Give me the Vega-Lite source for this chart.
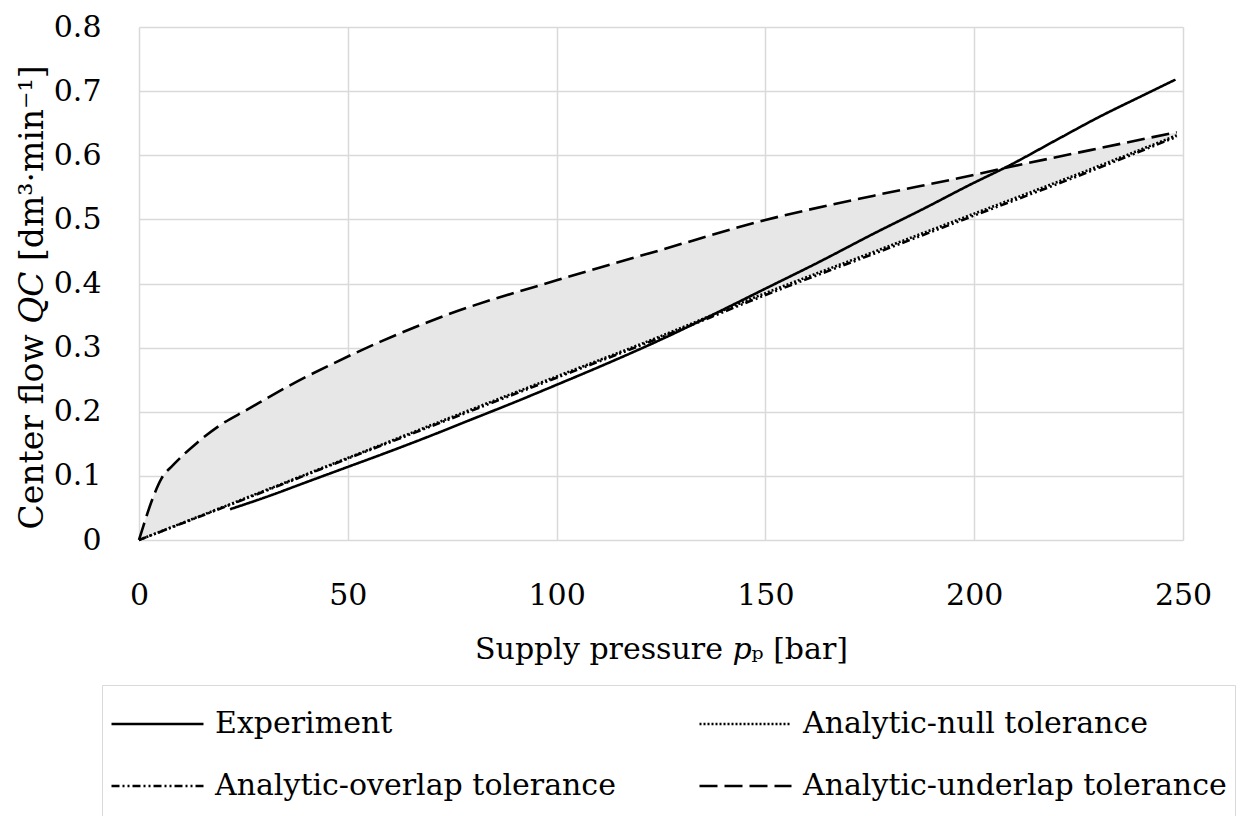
{
  "$schema": "https://vega.github.io/schema/vega-lite/v6.json",
  "width": 1044,
  "height": 513,
  "autosize": {"type": "none"},
  "padding": {"left": 139, "top": 27, "right": 67, "bottom": 276},
  "background": "white",
  "config": {
    "view": {"stroke": null},
    "font": "DejaVu Serif",
    "axis": {
      "labelFont": "DejaVu Serif",
      "titleFont": "DejaVu Serif",
      "labelFontSize": 30,
      "titleFontSize": 30,
      "labelColor": "#000000",
      "titleColor": "#000000",
      "titleFontWeight": "normal",
      "gridColor": "#d9d9d9",
      "gridWidth": 1.5,
      "domain": false,
      "ticks": false,
      "tickSize": 0,
      "labelFlush": false
    },
    "legend": {
      "orient": "none",
      "legendX": -37,
      "legendY": 658,
      "columns": 2,
      "direction": "horizontal",
      "symbolType": "stroke",
      "symbolSize": 8464,
      "symbolStrokeWidth": 2.5,
      "symbolStrokeColor": "#000000",
      "clipHeight": 62,
      "labelFont": "DejaVu Serif",
      "labelFontSize": 30,
      "labelColor": "#000000",
      "labelOffset": 10,
      "labelLimit": 0,
      "columnPadding": 82,
      "rowPadding": -1,
      "padding": 8,
      "strokeColor": "#d9d9d9",
      "fillColor": "#ffffff"
    }
  },
  "datasets": {
    "band": [
      {"p": 0, "upper": 0, "lower": 0},
      {"p": 1, "upper": 0.021, "lower": 0.0026},
      {"p": 3.4, "upper": 0.067, "lower": 0.0087},
      {"p": 5.4, "upper": 0.096, "lower": 0.0138},
      {"p": 8.2, "upper": 0.117, "lower": 0.021},
      {"p": 13.8, "upper": 0.151, "lower": 0.035},
      {"p": 19.4, "upper": 0.179, "lower": 0.05},
      {"p": 25.8, "upper": 0.203, "lower": 0.066},
      {"p": 37.8, "upper": 0.247, "lower": 0.097},
      {"p": 45.8, "upper": 0.273, "lower": 0.117},
      {"p": 57.7, "upper": 0.309, "lower": 0.147},
      {"p": 73.7, "upper": 0.351, "lower": 0.188},
      {"p": 100, "upper": 0.405, "lower": 0.255},
      {"p": 124.8, "upper": 0.452, "lower": 0.318},
      {"p": 150, "upper": 0.499, "lower": 0.385},
      {"p": 176, "upper": 0.537, "lower": 0.449},
      {"p": 199, "upper": 0.568, "lower": 0.507},
      {"p": 208.7, "upper": 0.582, "lower": 0.531},
      {"p": 227.8, "upper": 0.608, "lower": 0.578},
      {"p": 248.5, "upper": 0.636, "lower": 0.631}
    ],
    "lines": [
      {"series": "Experiment", "p": 21.8, "Q": 0.048},
      {"series": "Experiment", "p": 30, "Q": 0.066},
      {"series": "Experiment", "p": 40, "Q": 0.09},
      {"series": "Experiment", "p": 50, "Q": 0.114},
      {"series": "Experiment", "p": 60, "Q": 0.138},
      {"series": "Experiment", "p": 70, "Q": 0.163},
      {"series": "Experiment", "p": 80, "Q": 0.189},
      {"series": "Experiment", "p": 90, "Q": 0.215},
      {"series": "Experiment", "p": 100, "Q": 0.242},
      {"series": "Experiment", "p": 112, "Q": 0.275},
      {"series": "Experiment", "p": 124.8, "Q": 0.312},
      {"series": "Experiment", "p": 137, "Q": 0.35},
      {"series": "Experiment", "p": 150, "Q": 0.392},
      {"series": "Experiment", "p": 163, "Q": 0.434},
      {"series": "Experiment", "p": 176, "Q": 0.478},
      {"series": "Experiment", "p": 188, "Q": 0.517},
      {"series": "Experiment", "p": 199, "Q": 0.554},
      {"series": "Experiment", "p": 208.7, "Q": 0.585},
      {"series": "Experiment", "p": 220, "Q": 0.625},
      {"series": "Experiment", "p": 230, "Q": 0.66},
      {"series": "Experiment", "p": 240, "Q": 0.692},
      {"series": "Experiment", "p": 248.2, "Q": 0.718},
      {"series": "Analytic-null tolerance", "p": 0, "Q": 0},
      {"series": "Analytic-null tolerance", "p": 25, "Q": 0.064},
      {"series": "Analytic-null tolerance", "p": 50, "Q": 0.128},
      {"series": "Analytic-null tolerance", "p": 75, "Q": 0.192},
      {"series": "Analytic-null tolerance", "p": 100, "Q": 0.255},
      {"series": "Analytic-null tolerance", "p": 125, "Q": 0.318},
      {"series": "Analytic-null tolerance", "p": 150, "Q": 0.385},
      {"series": "Analytic-null tolerance", "p": 175, "Q": 0.447},
      {"series": "Analytic-null tolerance", "p": 200, "Q": 0.509},
      {"series": "Analytic-null tolerance", "p": 225, "Q": 0.571},
      {"series": "Analytic-null tolerance", "p": 248.5, "Q": 0.631},
      {"series": "Analytic-overlap tolerance", "p": 0, "Q": 0},
      {"series": "Analytic-overlap tolerance", "p": 25, "Q": 0.063},
      {"series": "Analytic-overlap tolerance", "p": 50, "Q": 0.127},
      {"series": "Analytic-overlap tolerance", "p": 75, "Q": 0.19},
      {"series": "Analytic-overlap tolerance", "p": 100, "Q": 0.253},
      {"series": "Analytic-overlap tolerance", "p": 125, "Q": 0.316},
      {"series": "Analytic-overlap tolerance", "p": 150, "Q": 0.382},
      {"series": "Analytic-overlap tolerance", "p": 175, "Q": 0.444},
      {"series": "Analytic-overlap tolerance", "p": 200, "Q": 0.506},
      {"series": "Analytic-overlap tolerance", "p": 225, "Q": 0.568},
      {"series": "Analytic-overlap tolerance", "p": 248.5, "Q": 0.629},
      {"series": "Analytic-underlap tolerance", "p": 0, "Q": 0},
      {"series": "Analytic-underlap tolerance", "p": 1, "Q": 0.021},
      {"series": "Analytic-underlap tolerance", "p": 3.4, "Q": 0.067},
      {"series": "Analytic-underlap tolerance", "p": 5.4, "Q": 0.096},
      {"series": "Analytic-underlap tolerance", "p": 8.2, "Q": 0.117},
      {"series": "Analytic-underlap tolerance", "p": 13.8, "Q": 0.151},
      {"series": "Analytic-underlap tolerance", "p": 19.4, "Q": 0.179},
      {"series": "Analytic-underlap tolerance", "p": 25.8, "Q": 0.203},
      {"series": "Analytic-underlap tolerance", "p": 37.8, "Q": 0.247},
      {"series": "Analytic-underlap tolerance", "p": 45.8, "Q": 0.273},
      {"series": "Analytic-underlap tolerance", "p": 57.7, "Q": 0.309},
      {"series": "Analytic-underlap tolerance", "p": 73.7, "Q": 0.351},
      {"series": "Analytic-underlap tolerance", "p": 100, "Q": 0.405},
      {"series": "Analytic-underlap tolerance", "p": 124.8, "Q": 0.452},
      {"series": "Analytic-underlap tolerance", "p": 150, "Q": 0.499},
      {"series": "Analytic-underlap tolerance", "p": 176, "Q": 0.537},
      {"series": "Analytic-underlap tolerance", "p": 199, "Q": 0.568},
      {"series": "Analytic-underlap tolerance", "p": 208.7, "Q": 0.582},
      {"series": "Analytic-underlap tolerance", "p": 227.8, "Q": 0.608},
      {"series": "Analytic-underlap tolerance", "p": 248.5, "Q": 0.636}
    ]
  },
  "layer": [
    {
      "data": {"name": "band"},
      "mark": {"type": "area", "color": "#e7e7e7", "opacity": 1, "interpolate": "monotone"},
      "encoding": {
        "x": {
          "field": "p",
          "type": "quantitative",
          "scale": {"domain": [0, 250], "nice": false, "zero": false},
          "axis": {
            "values": [0, 50, 100, 150, 200, 250],
            "format": "d",
            "labelPadding": 40,
            "titlePadding": 24,
            "title": "Supply pressure 𝑝ₚ [bar]"
          }
        },
        "y": {
          "field": "upper",
          "type": "quantitative",
          "scale": {"domain": [0, 0.8], "nice": false},
          "axis": {
            "values": [0, 0.1, 0.2, 0.3, 0.4, 0.5, 0.6, 0.7, 0.8],
            "format": ".1~f",
            "labelPadding": 38,
            "titlePadding": 4,
            "titleFontSize": 33,
            "titleY": 270,
            "title": "Center flow 𝑄𝐶 [dm³·min⁻¹]"
          }
        },
        "y2": {"field": "lower"}
      }
    },
    {
      "data": {"name": "lines"},
      "mark": {"type": "line", "color": "#000000", "strokeWidth": 2.6, "interpolate": "monotone"},
      "encoding": {
        "x": {"field": "p", "type": "quantitative"},
        "y": {"field": "Q", "type": "quantitative"},
        "strokeDash": {
          "field": "series",
          "type": "nominal",
          "scale": {
            "domain": ["Experiment", "Analytic-null tolerance", "Analytic-overlap tolerance", "Analytic-underlap tolerance"],
            "range": [[1, 0], [2, 2], [8, 3, 2, 3, 2, 3], [18, 7]]
          },
          "legend": {"title": null}
        }
      }
    }
  ]
}
